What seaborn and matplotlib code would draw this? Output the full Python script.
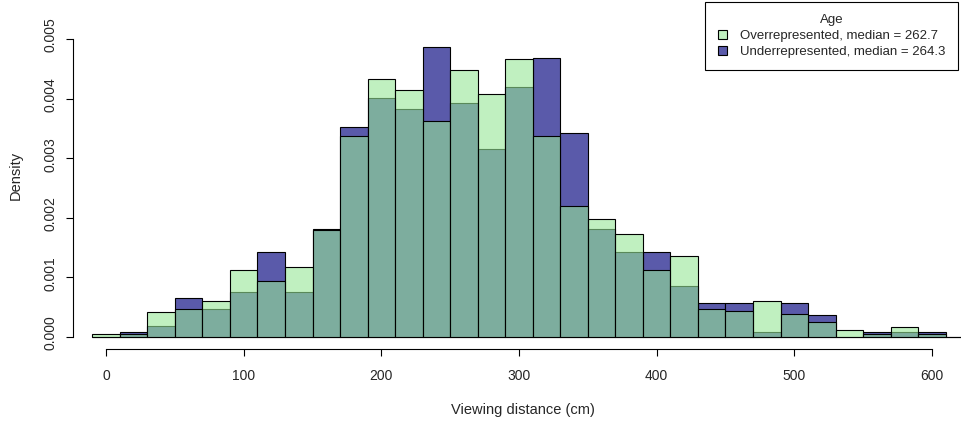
import pandas as pd
import seaborn as sns
import matplotlib.pyplot as plt
from matplotlib.patches import Patch
from matplotlib.transforms import ScaledTranslation

# bin centres (20 cm wide bins from -10; two extra empty bins on the right)
centers = [0, 20, 40, 60, 80, 100, 120, 140, 160, 180, 200, 220, 240, 260, 280, 300,
           320, 340, 360, 380, 400, 420, 440, 460, 480, 500, 520, 540, 560, 580, 600,
           620, 640]

# density per bin, Overrepresented / Underrepresented
over = [0.00005, 0.00005, 0.00042, 0.000476, 0.00061, 0.00112, 0.00094, 0.00118,
        0.00179, 0.00338, 0.00432, 0.00414, 0.00362, 0.00448, 0.00408, 0.00466,
        0.00338, 0.00219, 0.001975, 0.00173, 0.00112, 0.001365, 0.000476, 0.00044,
        0.00061, 0.000385, 0.000258, 0.000124, 0.00005, 0.000175, 0.00005, 0, 0]
under = [0, 0.000084, 0.00019, 0.00066, 0.000476, 0.00076, 0.00143, 0.00076,
         0.00181, 0.00353, 0.00401, 0.00383, 0.00487, 0.00392, 0.00315, 0.00420,
         0.00468, 0.00343, 0.00181, 0.00143, 0.00143, 0.00086, 0.00057, 0.000565,
         0.00009, 0.000565, 0.000375, 0, 0.00009, 0.00009, 0.00009, 0, 0]

labels = ["Overrepresented, median = 262.7", "Underrepresented, median = 264.3"]
xticks = [0, 100, 200, 300, 400, 500, 600]
yticks = [0.000, 0.001, 0.002, 0.003, 0.004, 0.005]
yticklabels = ["0.000", "0.001", "0.002", "0.003", "0.004", "0.005"]

df = pd.DataFrame({"distance": centers, "over": over, "under": under})

sns.set_style("white")
plt.rcParams['font.family'] = ['Liberation Sans', 'DejaVu Sans']
plt.rcParams['font.size'] = 10

blue = (90/255, 90/255, 170/255, 1.0)
green = (150/255, 230/255, 150/255, 0.6)

fig = plt.figure(figsize=(9.61, 4.21), dpi=100)
ax = fig.add_axes([73/961, 72/421, 892/961, 322/421])

sns.histplot(data=df, x="distance", weights="under", binwidth=20, binrange=(-10, 650),
             stat="count", element="bars", facecolor=blue, edgecolor="black",
             linewidth=0.8, ax=ax)
sns.histplot(data=df, x="distance", weights="over", binwidth=20, binrange=(-10, 650),
             stat="count", element="bars", facecolor=green, edgecolor="black",
             linewidth=0.8, ax=ax)

ax.set_xlim(-24, 624)
ax.set_ylim(-0.0002, 0.0052)
ax.set_xlabel("")
ax.set_ylabel("")
ax.set_xticks(xticks)
ax.set_xticklabels([str(t) for t in xticks])
ax.set_yticks(yticks)
ax.set_yticklabels(yticklabels, rotation=90, va="center")

for s in ["top", "right"]:
    ax.spines[s].set_visible(False)
ax.spines["bottom"].set_bounds(0, 600)
ax.spines["left"].set_bounds(0, 0.005)
for s in ["bottom", "left"]:
    ax.spines[s].set_color("black")
    ax.spines[s].set_linewidth(0.8)
ax.tick_params(axis="both", direction="out", length=5, width=0.8, color="black",
               labelsize=10, left=True, bottom=True)
ax.tick_params(axis="x", pad=9.7)
ax.tick_params(axis="y", pad=6)
# R draws the rotated y labels a little higher than the ticks
shift = ScaledTranslation(0, 4 / 100, fig.dpi_scale_trans)
for lbl in ax.get_yticklabels():
    lbl.set_transform(lbl.get_transform() + shift)

fig.text(523/961, 1 - 410/421, "Viewing distance (cm)", ha="center", va="center", fontsize=10.5)
fig.text(15.5/961, 1 - 175/421, "Density", ha="center", va="center", rotation=90, fontsize=10.5)

handles = [Patch(facecolor="#C0F0C0", edgecolor="black", linewidth=0.8),
           Patch(facecolor="#5A5AAA", edgecolor="black", linewidth=0.8)]
leg = ax.legend(handles, labels, title="Age", loc="upper right",
                bbox_to_anchor=(958/961, 1 - 1.5/421), bbox_transform=fig.transFigure,
                frameon=True, fancybox=False, edgecolor="black", framealpha=1,
                borderaxespad=0, borderpad=0.92, labelspacing=0.3,
                handlelength=0.68, handleheight=0.68, handletextpad=1.06,
                fontsize=9.5, title_fontsize=9.5)
leg.get_frame().set_linewidth(0.8)

fig.savefig("out.png", dpi=100)
